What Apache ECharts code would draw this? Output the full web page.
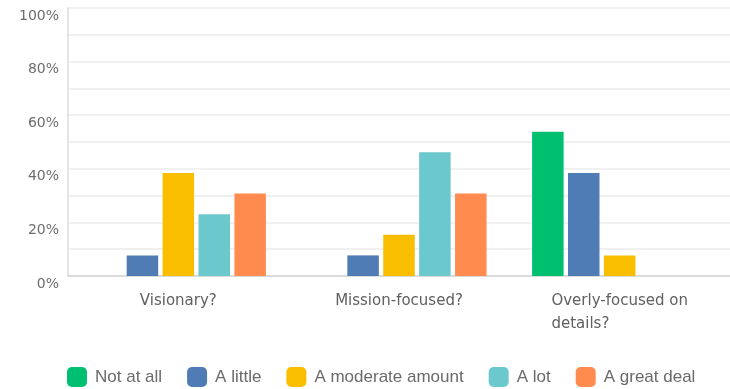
<!DOCTYPE html>
<html>
<head>
<meta charset="utf-8">
<title>Leadership survey</title>
<script src="https://cdn.jsdelivr.net/npm/echarts@6/dist/echarts.min.js"></script>
<style>
  html, body { margin: 0; padding: 0; background: #ffffff; }
  #chart { width: 730px; height: 389px; }
</style>
</head>
<body>
<div id="chart"></div>
<script>
// Questions asked (x categories)
const questions = ['Visionary?', 'Mission-focused?', 'Overly-focused on\ndetails?'];

// Share of respondents (%) per answer, one value per question
const notAtAll      = [0, 0, 53.85];
const aLittle       = [7.69, 7.69, 38.46];
const aModerate     = [38.46, 15.38, 7.69];
const aLot          = [23.08, 46.15, 0];
const aGreatDeal    = [30.77, 30.77, 0];

const answerNames  = ['Not at all', 'A little', 'A moderate amount', 'A lot', 'A great deal'];
const answerValues = [notAtAll, aLittle, aModerate, aLot, aGreatDeal];
const answerColors = ['#00bf6f', '#507cb6', '#f9be00', '#6bc8cd', '#ff8b4f'];

// Y-axis range and label step
const yMin = 0;
const yMax = 100;
const yStep = 20;

const chart = echarts.init(document.getElementById('chart'), null, { renderer: 'canvas' });

const series = answerNames.map((name, i) => ({
  name: name,
  type: 'bar',
  data: answerValues[i],
  barWidth: 31.5,
  barGap: '14%',
  itemStyle: { color: answerColors[i] },
  emphasis: { disabled: true }
}));

chart.setOption({
  animation: false,
  backgroundColor: '#ffffff',
  grid: { left: 68, top: 8, width: 666, height: 268, containLabel: false },
  xAxis: {
    type: 'category',
    data: questions,
    axisTick: { show: false },
    axisLine: { show: true, lineStyle: { color: '#d4d4d4', width: 1.5 } },
    axisLabel: {
      interval: 0,
      margin: 14,
      // each line is its own token so wrapped lines share a left edge
      formatter: v => v.split('\n').map(line => '{t|' + line + '}').join('\n'),
      rich: {
        t: {
          fontFamily: 'DejaVu Sans',
          fontSize: 15,
          color: '#606060',
          lineHeight: 23,
          align: 'left'
        }
      }
    }
  },
  yAxis: {
    type: 'value',
    min: yMin,
    max: yMax,
    interval: yStep,
    axisLine: { show: true, lineStyle: { color: '#dcdcdc', width: 1.5 } },
    axisTick: { show: false },
    axisLabel: {
      formatter: '{value}%',
      fontFamily: 'DejaVu Sans',
      fontSize: 14,
      color: '#6e6e6e',
      margin: 9,
      verticalAlign: 'top',
      lineHeight: 16
    },
    splitLine: { show: true, lineStyle: { color: '#ececec', width: 1.5 } },
    minorTick: { show: false, splitNumber: 2 },
    minorSplitLine: { show: true, lineStyle: { color: '#ececec', width: 1.5 } }
  },
  legend: {
    left: 67,
    top: 367,
    padding: 0,
    icon: 'roundRect',
    itemWidth: 20,
    itemHeight: 20,
    itemGap: 25,
    selectedMode: false,
    data: answerNames,
    textStyle: {
      fontFamily: 'Liberation Sans',
      fontSize: 17,
      color: '#6a6a6a',
      padding: [0, 0, 0, 3]
    }
  },
  series: series
});
</script>
</body>
</html>
